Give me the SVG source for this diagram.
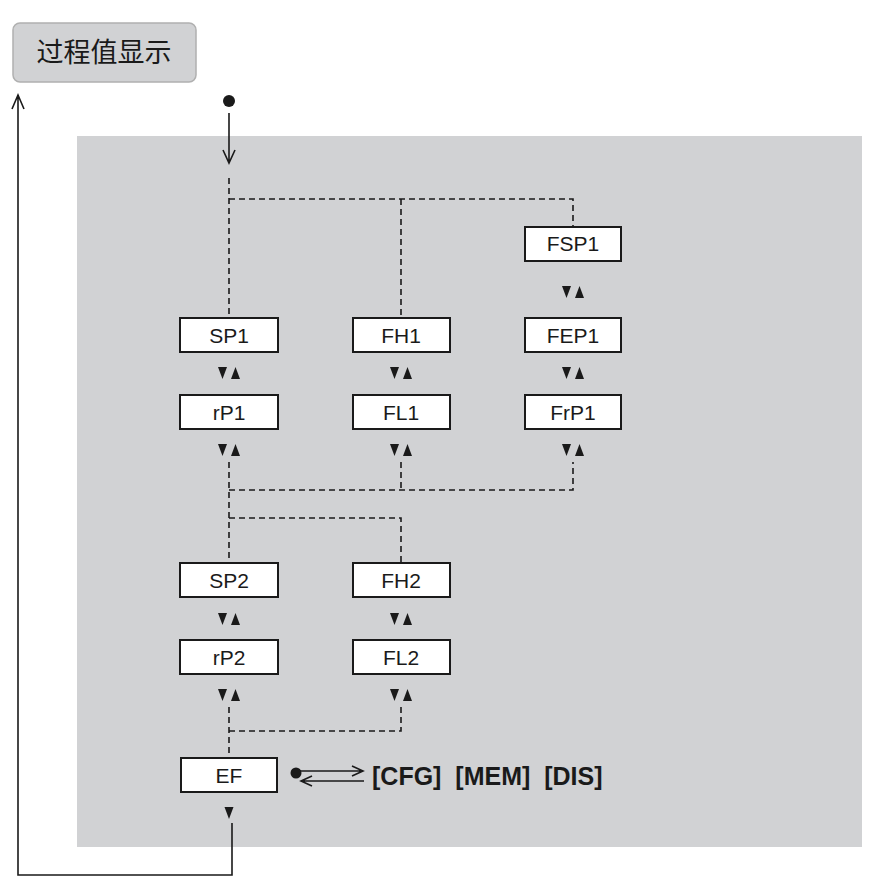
<svg xmlns="http://www.w3.org/2000/svg" width="873" height="879" viewBox="0 0 873 879">
<style>
.box{fill:#fff;stroke:#1a1a1a;stroke-width:2}
.t{font-family:"Liberation Sans",Arial,sans-serif;font-size:21px;text-anchor:middle;fill:#1a1a1a}
.d{fill:none;stroke:#1a1a1a;stroke-width:1.6;stroke-dasharray:6,4}
.s{fill:none;stroke:#1a1a1a;stroke-width:1.6}
.tri{fill:#1a1a1a}
</style>
<defs>
<g id="ud"><polygon class="tri" points="-11,-6 -2,-6 -6.5,6"/><polygon class="tri" points="2,6 11,6 6.5,-6"/></g>
</defs>
<rect x="77" y="136" width="785" height="711" fill="#d1d2d4"/>
<g id="start"><rect x="13" y="23" width="183" height="59" rx="7" fill="#d1d2d4" stroke="#b0b0b0" stroke-width="1.5"/>
<text x="104" y="62" font-family="'Noto Sans CJK SC',sans-serif" font-size="27" text-anchor="middle" fill="#1a1a1a">过程值显示</text></g>
<g id="connectors">
<circle cx="229" cy="101" r="6" fill="#1a1a1a"/>
<path class="s" d="M229 113V163M223 150L229 163L235 150"/>
<path class="d" d="M229 178V318M229 199H573V227M401 199V318"/>
<path class="d" d="M229 462V563M229 490H573V462M401 462V490M229 518H401V563"/>
<path class="d" d="M229 707V758M229 731H401V707"/>
<path class="s" d="M232 823V875H18V95M12 109L18 95L24 109"/>
<circle cx="296" cy="773" r="5.5" fill="#1a1a1a"/>
<path class="s" d="M300 771H363M352 766L363 771L352 776M364 781H301M312 776L301 781L312 786"/>
<use href="#ud" x="229" y="373"/><use href="#ud" x="401" y="373"/><use href="#ud" x="573" y="373"/>
<use href="#ud" x="229" y="450"/><use href="#ud" x="401" y="450"/><use href="#ud" x="573" y="450"/>
<use href="#ud" x="573" y="292"/>
<use href="#ud" x="229" y="619"/><use href="#ud" x="401" y="619"/>
<use href="#ud" x="229" y="695"/><use href="#ud" x="401" y="695"/>
<polygon class="tri" points="224.5,807 233.5,807 229,819"/>
</g>
<g id="FSP1"><rect class="box" x="525" y="227" width="96" height="34"/><text class="t" x="573" y="251">FSP1</text></g>
<g id="SP1"><rect class="box" x="180" y="318" width="98" height="34"/><text class="t" x="229" y="343">SP1</text></g>
<g id="FH1"><rect class="box" x="353" y="318" width="97" height="34"/><text class="t" x="401" y="343">FH1</text></g>
<g id="FEP1"><rect class="box" x="525" y="318" width="96" height="34"/><text class="t" x="573" y="343">FEP1</text></g>
<g id="rP1"><rect class="box" x="180" y="395" width="98" height="34"/><text class="t" x="229" y="420">rP1</text></g>
<g id="FL1"><rect class="box" x="353" y="395" width="97" height="34"/><text class="t" x="401" y="420">FL1</text></g>
<g id="FrP1"><rect class="box" x="525" y="395" width="96" height="34"/><text class="t" x="573" y="420">FrP1</text></g>
<g id="SP2"><rect class="box" x="180" y="563" width="98" height="34"/><text class="t" x="229" y="588">SP2</text></g>
<g id="FH2"><rect class="box" x="353" y="563" width="97" height="34"/><text class="t" x="401" y="588">FH2</text></g>
<g id="rP2"><rect class="box" x="180" y="640" width="98" height="34"/><text class="t" x="229" y="665">rP2</text></g>
<g id="FL2"><rect class="box" x="353" y="640" width="97" height="34"/><text class="t" x="401" y="665">FL2</text></g>
<g id="EF"><rect class="box" x="181" y="758" width="96" height="34"/><text class="t" x="229" y="783">EF</text></g>
<text x="372" y="785" font-family="'Liberation Sans',Arial,sans-serif" font-size="25" font-weight="bold" fill="#1a1a1a" xml:space="preserve">[CFG]  [MEM]  [DIS]</text>
</svg>
